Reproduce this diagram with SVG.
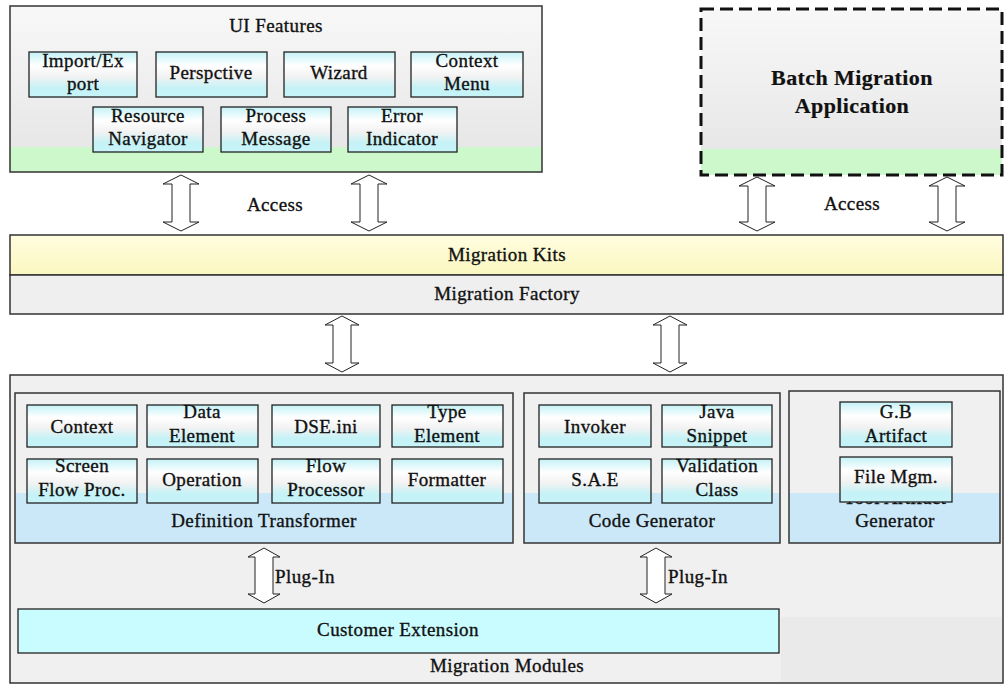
<svg xmlns="http://www.w3.org/2000/svg" width="1005" height="685" viewBox="0 0 1005 685">
<defs>
<linearGradient id="cy" x1="0" y1="0" x2="0" y2="1">
<stop offset="0" stop-color="#c4f2f6"/>
<stop offset="0.3" stop-color="#ffffff"/>
<stop offset="0.55" stop-color="#f2f2f2"/>
<stop offset="0.8" stop-color="#c4f2f6"/>
<stop offset="1" stop-color="#c8f4f8"/>
</linearGradient>
<linearGradient id="gr" x1="0" y1="0" x2="0" y2="1">
<stop offset="0" stop-color="#f8f8f8"/>
<stop offset="1" stop-color="#e4e4e4"/>
</linearGradient>
<linearGradient id="yl" x1="0" y1="0" x2="0" y2="1">
<stop offset="0" stop-color="#fffde0"/>
<stop offset="1" stop-color="#fbf7c0"/>
</linearGradient>
<style>
.t{font-family:"Liberation Serif","Times New Roman",serif;font-size:19px;fill:#111;stroke:#111;stroke-width:0.35px;text-anchor:middle;letter-spacing:0.4px}
.s{text-anchor:start}
.b{font-weight:bold;font-size:22px;stroke-width:0.2px}
.box{fill:url(#cy);stroke:#222;stroke-width:1.3}
.frame{stroke:#333;stroke-width:1.5}
.panel{fill:#f0f0f0;stroke:#333;stroke-width:1.5}
.blue{fill:#cbe8f8}
.green{fill:#ccf8cc}
.arrow{fill:#fff;stroke:#222;stroke-width:1}
</style>
</defs>

<g id="ui-features">
<rect x="10" y="6" width="532" height="166" fill="url(#gr)"/>
<rect x="10" y="147" width="532" height="25" class="green"/>
<rect x="10" y="6" width="532" height="166" fill="none" class="frame"/>
<text class="t" x="276" y="32">UI Features</text>
</g>
<g id="import-export"><rect class="box" x="29" y="52" width="108" height="45"/><text class="t" x="83" y="67">Import/Ex</text><text class="t" x="83" y="90">port</text></g>
<g id="perspective"><rect class="box" x="156" y="52" width="111" height="45"/><text class="t" x="211" y="79">Perspctive</text></g>
<g id="wizard"><rect class="box" x="284" y="52" width="111" height="45"/><text class="t" x="339" y="79">Wizard</text></g>
<g id="context-menu"><rect class="box" x="411" y="52" width="112" height="45"/><text class="t" x="467" y="67">Context</text><text class="t" x="467" y="90">Menu</text></g>
<g id="resource-navigator"><rect class="box" x="93" y="107" width="110" height="45"/><text class="t" x="148" y="122">Resource</text><text class="t" x="148" y="145">Navigator</text></g>
<g id="process-message"><rect class="box" x="221" y="107" width="110" height="45"/><text class="t" x="276" y="122">Process</text><text class="t" x="276" y="145">Message</text></g>
<g id="error-indicator"><rect class="box" x="348" y="107" width="109" height="45"/><text class="t" x="402" y="122">Error</text><text class="t" x="402" y="145">Indicator</text></g>

<g id="batch-migration">
<rect x="701" y="9" width="301" height="166" fill="url(#gr)"/>
<rect x="701" y="149" width="301" height="26" class="green"/>
<rect x="701" y="9" width="301" height="166" fill="none" stroke="#111" stroke-width="3" stroke-dasharray="13,6"/>
<text class="t b" x="852" y="85">Batch Migration</text>
<text class="t b" x="852" y="113">Application</text>
</g>

<g id="migration-kits">
<rect x="10" y="235" width="993" height="40" fill="url(#yl)" class="frame"/>
<text class="t" x="507" y="261">Migration Kits</text>
</g>
<g id="migration-factory">
<rect x="10" y="275" width="993" height="39" fill="#efefef" class="frame"/>
<text class="t" x="507" y="300">Migration Factory</text>
</g>

<g id="migration-modules">
<rect x="10" y="375" width="993" height="308" class="panel"/>
<rect x="781" y="617" width="221" height="65" fill="#eaeaea"/>
<text class="t" x="507" y="672">Migration Modules</text>
</g>

<g id="definition-transformer">
<rect x="15" y="393" width="498" height="150" fill="#f0f0f0"/>
<rect x="15" y="493" width="498" height="50" class="blue"/>
<rect x="15" y="393" width="498" height="150" fill="none" class="frame"/>
<text class="t" x="264" y="527">Definition Transformer</text>
</g>
<g id="context"><rect class="box" x="27" y="405" width="110" height="42"/><text class="t" x="82" y="433">Context</text></g>
<g id="data-element"><rect class="box" x="147" y="405" width="111" height="42"/><text class="t" x="202" y="418">Data</text><text class="t" x="202" y="442">Element</text></g>
<g id="dse-ini"><rect class="box" x="272" y="405" width="108" height="42"/><text class="t" x="326" y="433">DSE.ini</text></g>
<g id="type-element"><rect class="box" x="392" y="405" width="111" height="42"/><text class="t" x="447" y="418">Type</text><text class="t" x="447" y="442">Element</text></g>
<g id="screen-flow-proc"><rect class="box" x="27" y="459" width="110" height="44"/><text class="t" x="82" y="472">Screen</text><text class="t" x="82" y="496">Flow Proc.</text></g>
<g id="operation"><rect class="box" x="147" y="459" width="111" height="44"/><text class="t" x="202" y="486">Operation</text></g>
<g id="flow-processor"><rect class="box" x="272" y="459" width="108" height="44"/><text class="t" x="326" y="472">Flow</text><text class="t" x="326" y="496">Processor</text></g>
<g id="formatter"><rect class="box" x="392" y="459" width="111" height="44"/><text class="t" x="447" y="486">Formatter</text></g>

<g id="code-generator">
<rect x="524" y="393" width="256" height="150" fill="#f0f0f0"/>
<rect x="524" y="493" width="256" height="50" class="blue"/>
<rect x="524" y="393" width="256" height="150" fill="none" class="frame"/>
<text class="t" x="652" y="527">Code Generator</text>
</g>
<g id="invoker"><rect class="box" x="539" y="405" width="112" height="42"/><text class="t" x="595" y="433">Invoker</text></g>
<g id="java-snippet"><rect class="box" x="662" y="405" width="110" height="42"/><text class="t" x="717" y="418">Java</text><text class="t" x="717" y="442">Snippet</text></g>
<g id="sae"><rect class="box" x="539" y="459" width="112" height="44"/><text class="t" x="595" y="486">S.A.E</text></g>
<g id="validation-class"><rect class="box" x="662" y="459" width="110" height="44"/><text class="t" x="717" y="472">Validation</text><text class="t" x="717" y="496">Class</text></g>

<g id="tool-artifact-generator">
<rect x="789" y="391" width="211" height="152" fill="#f0f0f0"/>
<rect x="789" y="493" width="211" height="50" class="blue"/>
<rect x="789" y="391" width="211" height="152" fill="none" class="frame"/>
<text class="t" x="895" y="504">Tool Artifact</text>
<text class="t" x="895" y="527">Generator</text>
</g>
<g id="gb-artifact"><rect class="box" x="840" y="402" width="112" height="45"/><text class="t" x="896" y="418">G.B</text><text class="t" x="896" y="442">Artifact</text></g>
<g id="file-mgm"><rect class="box" x="840" y="457" width="112" height="45"/><text class="t" x="896" y="483">File Mgm.</text></g>

<g id="customer-extension">
<rect x="18" y="609" width="761" height="44" fill="#c8fcfe" stroke="#222" stroke-width="1.3"/>
<text class="t" x="398" y="636">Customer Extension</text>
</g>

<g id="connectors">
<path class="arrow" d="M181,175 L199,184 L190,184 L190,222 L199,222 L181,231 L163,222 L172,222 L172,184 L163,184 Z"/>
<path class="arrow" d="M369,175 L387,184 L378,184 L378,222 L387,222 L369,231 L351,222 L360,222 L360,184 L351,184 Z"/>
<text class="t" x="275" y="211">Access</text>
<path class="arrow" d="M757,177 L775,186 L766,186 L766,222 L775,222 L757,231 L739,222 L748,222 L748,186 L739,186 Z"/>
<path class="arrow" d="M947,177 L965,186 L956,186 L956,222 L965,222 L947,231 L929,222 L938,222 L938,186 L929,186 Z"/>
<text class="t" x="852" y="210">Access</text>
<path class="arrow" d="M342,316 L359,325 L351,325 L351,363 L359,363 L342,372 L325,363 L333,363 L333,325 L325,325 Z"/>
<path class="arrow" d="M670,316 L687,325 L679,325 L679,363 L687,363 L670,372 L653,363 L661,363 L661,325 L653,325 Z"/>
<path class="arrow" d="M264,548 L280,557 L273,557 L273,594 L280,594 L264,603 L248,594 L255,594 L255,557 L248,557 Z"/>
<text class="t s" x="275" y="583">Plug-In</text>
<path class="arrow" d="M656,548 L672,557 L665,557 L665,594 L672,594 L656,603 L640,594 L647,594 L647,557 L640,557 Z"/>
<text class="t s" x="668" y="583">Plug-In</text>
</g>
</svg>
